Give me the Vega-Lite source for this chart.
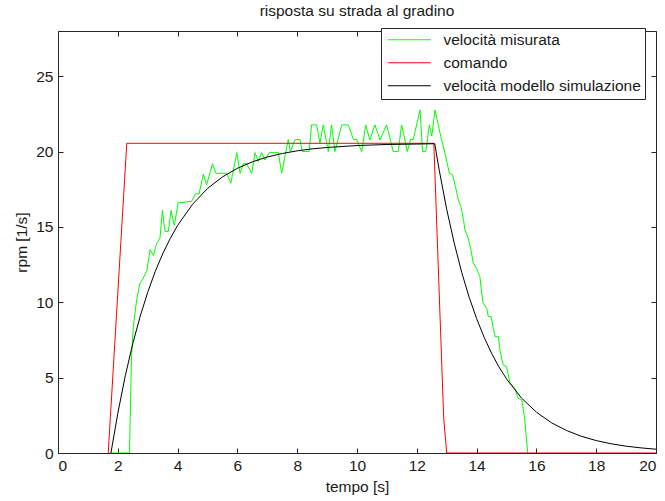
{
  "$schema": "https://vega.github.io/schema/vega-lite/v6.json",
  "width": 598,
  "height": 422,
  "autosize": {"type": "none"},
  "padding": {"left": 58, "top": 31, "right": 9, "bottom": 48},
  "background": "white",
  "config": {
    "font": "Liberation Sans",
    "view": {"stroke": null},
    "axis": {
      "grid": false,
      "domainColor": "#262626",
      "tickColor": "#262626",
      "labelColor": "#1a1a1a",
      "titleColor": "#1a1a1a",
      "labelFont": "Liberation Sans",
      "titleFont": "Liberation Sans",
      "labelFontSize": 15.5,
      "titleFontSize": 15.5,
      "titleFontWeight": "normal",
      "tickSize": -5,
      "domainWidth": 1,
      "tickWidth": 1
    },
    "title": {"font": "Liberation Sans", "fontSize": 15.5, "fontWeight": "normal", "color": "#1a1a1a", "offset": 8},
    "legend": {
      "labelFont": "Liberation Sans",
      "labelFontSize": 15.5,
      "labelColor": "#1a1a1a",
      "labelLimit": 400
    }
  },
  "title": {"text": "risposta su strada al gradino", "anchor": "middle"},
  "data": {"values": [
    {"t": 1.75, "v": 0, "serie": "velocità misurata"},
    {"t": 2.39, "v": 0, "serie": "velocità misurata"},
    {"t": 2.46, "v": 6.4, "serie": "velocità misurata"},
    {"t": 2.52, "v": 8.4, "serie": "velocità misurata"},
    {"t": 2.63, "v": 10.15, "serie": "velocità misurata"},
    {"t": 2.74, "v": 11.26, "serie": "velocità misurata"},
    {"t": 2.85, "v": 11.6, "serie": "velocità misurata"},
    {"t": 2.97, "v": 12.1, "serie": "velocità misurata"},
    {"t": 3.08, "v": 13.5, "serie": "velocità misurata"},
    {"t": 3.19, "v": 13.1, "serie": "velocità misurata"},
    {"t": 3.3, "v": 13.9, "serie": "velocità misurata"},
    {"t": 3.41, "v": 14.25, "serie": "velocità misurata"},
    {"t": 3.49, "v": 16.1, "serie": "velocità misurata"},
    {"t": 3.58, "v": 14.7, "serie": "velocità misurata"},
    {"t": 3.69, "v": 14.7, "serie": "velocità misurata"},
    {"t": 3.78, "v": 16.1, "serie": "velocità misurata"},
    {"t": 3.89, "v": 15.1, "serie": "velocità misurata"},
    {"t": 4.02, "v": 16.6, "serie": "velocità misurata"},
    {"t": 4.47, "v": 16.7, "serie": "velocità misurata"},
    {"t": 4.6, "v": 17.2, "serie": "velocità misurata"},
    {"t": 4.72, "v": 17.2, "serie": "velocità misurata"},
    {"t": 4.86, "v": 18.5, "serie": "velocità misurata"},
    {"t": 4.97, "v": 17.8, "serie": "velocità misurata"},
    {"t": 5.17, "v": 19.2, "serie": "velocità misurata"},
    {"t": 5.28, "v": 18.56, "serie": "velocità misurata"},
    {"t": 5.64, "v": 18.56, "serie": "velocità misurata"},
    {"t": 5.78, "v": 17.9, "serie": "velocità misurata"},
    {"t": 5.98, "v": 19.93, "serie": "velocità misurata"},
    {"t": 6.09, "v": 18.56, "serie": "velocità misurata"},
    {"t": 6.2, "v": 19.2, "serie": "velocità misurata"},
    {"t": 6.31, "v": 19.2, "serie": "velocità misurata"},
    {"t": 6.48, "v": 18.56, "serie": "velocità misurata"},
    {"t": 6.59, "v": 19.93, "serie": "velocità misurata"},
    {"t": 6.7, "v": 19.33, "serie": "velocità misurata"},
    {"t": 6.81, "v": 19.93, "serie": "velocità misurata"},
    {"t": 6.92, "v": 19.44, "serie": "velocità misurata"},
    {"t": 7.07, "v": 19.93, "serie": "velocità misurata"},
    {"t": 7.37, "v": 19.93, "serie": "velocità misurata"},
    {"t": 7.48, "v": 18.56, "serie": "velocità misurata"},
    {"t": 7.7, "v": 20.8, "serie": "velocità misurata"},
    {"t": 7.77, "v": 20.0, "serie": "velocità misurata"},
    {"t": 7.93, "v": 20.8, "serie": "velocità misurata"},
    {"t": 8.09, "v": 20.8, "serie": "velocità misurata"},
    {"t": 8.17, "v": 20.0, "serie": "velocità misurata"},
    {"t": 8.4, "v": 20.0, "serie": "velocità misurata"},
    {"t": 8.48, "v": 21.77, "serie": "velocità misurata"},
    {"t": 8.65, "v": 21.77, "serie": "velocità misurata"},
    {"t": 8.76, "v": 20.55, "serie": "velocità misurata"},
    {"t": 8.87, "v": 21.77, "serie": "velocità misurata"},
    {"t": 9.04, "v": 20.0, "serie": "velocità misurata"},
    {"t": 9.15, "v": 21.77, "serie": "velocità misurata"},
    {"t": 9.26, "v": 20.0, "serie": "velocità misurata"},
    {"t": 9.49, "v": 21.77, "serie": "velocità misurata"},
    {"t": 9.71, "v": 21.77, "serie": "velocità misurata"},
    {"t": 9.88, "v": 20.8, "serie": "velocità misurata"},
    {"t": 9.99, "v": 20.8, "serie": "velocità misurata"},
    {"t": 10.16, "v": 20.0, "serie": "velocità misurata"},
    {"t": 10.29, "v": 21.77, "serie": "velocità misurata"},
    {"t": 10.43, "v": 20.77, "serie": "velocità misurata"},
    {"t": 10.6, "v": 21.77, "serie": "velocità misurata"},
    {"t": 10.77, "v": 20.77, "serie": "velocità misurata"},
    {"t": 10.99, "v": 21.77, "serie": "velocità misurata"},
    {"t": 11.21, "v": 20.0, "serie": "velocità misurata"},
    {"t": 11.38, "v": 20.0, "serie": "velocità misurata"},
    {"t": 11.49, "v": 21.77, "serie": "velocità misurata"},
    {"t": 11.57, "v": 21.1, "serie": "velocità misurata"},
    {"t": 11.68, "v": 20.0, "serie": "velocità misurata"},
    {"t": 11.79, "v": 20.8, "serie": "velocità misurata"},
    {"t": 11.88, "v": 20.8, "serie": "velocità misurata"},
    {"t": 12.11, "v": 22.76, "serie": "velocità misurata"},
    {"t": 12.19, "v": 20.0, "serie": "velocità misurata"},
    {"t": 12.3, "v": 20.0, "serie": "velocità misurata"},
    {"t": 12.42, "v": 21.77, "serie": "velocità misurata"},
    {"t": 12.5, "v": 21.03, "serie": "velocità misurata"},
    {"t": 12.61, "v": 22.76, "serie": "velocità misurata"},
    {"t": 12.78, "v": 21.2, "serie": "velocità misurata"},
    {"t": 12.94, "v": 19.9, "serie": "velocità misurata"},
    {"t": 13.09, "v": 18.56, "serie": "velocità misurata"},
    {"t": 13.2, "v": 18.45, "serie": "velocità misurata"},
    {"t": 13.3, "v": 17.6, "serie": "velocità misurata"},
    {"t": 13.39, "v": 16.8, "serie": "velocità misurata"},
    {"t": 13.48, "v": 16.3, "serie": "velocità misurata"},
    {"t": 13.56, "v": 15.5, "serie": "velocità misurata"},
    {"t": 13.61, "v": 14.8, "serie": "velocità misurata"},
    {"t": 13.72, "v": 14.25, "serie": "velocità misurata"},
    {"t": 13.81, "v": 13.47, "serie": "velocità misurata"},
    {"t": 13.89, "v": 12.6, "serie": "velocità misurata"},
    {"t": 14.0, "v": 12.25, "serie": "velocità misurata"},
    {"t": 14.11, "v": 11.7, "serie": "velocità misurata"},
    {"t": 14.17, "v": 10.6, "serie": "velocità misurata"},
    {"t": 14.22, "v": 9.93, "serie": "velocità misurata"},
    {"t": 14.34, "v": 9.6, "serie": "velocità misurata"},
    {"t": 14.39, "v": 9.05, "serie": "velocità misurata"},
    {"t": 14.48, "v": 9.05, "serie": "velocità misurata"},
    {"t": 14.56, "v": 8.27, "serie": "velocità misurata"},
    {"t": 14.62, "v": 7.72, "serie": "velocità misurata"},
    {"t": 14.73, "v": 7.72, "serie": "velocità misurata"},
    {"t": 14.78, "v": 6.83, "serie": "velocità misurata"},
    {"t": 14.89, "v": 5.84, "serie": "velocità misurata"},
    {"t": 15.0, "v": 5.73, "serie": "velocità misurata"},
    {"t": 15.12, "v": 4.62, "serie": "velocità misurata"},
    {"t": 15.28, "v": 4.29, "serie": "velocità misurata"},
    {"t": 15.39, "v": 3.63, "serie": "velocità misurata"},
    {"t": 15.51, "v": 3.52, "serie": "velocità misurata"},
    {"t": 15.6, "v": 2.41, "serie": "velocità misurata"},
    {"t": 15.71, "v": 0, "serie": "velocità misurata"},
    {"t": 1.68, "v": 0, "serie": "comando"},
    {"t": 2.3, "v": 20.55, "serie": "comando"},
    {"t": 12.57, "v": 20.55, "serie": "comando"},
    {"t": 12.9, "v": 2.3, "serie": "comando"},
    {"t": 13.0, "v": 0, "serie": "comando"},
    {"t": 20, "v": 0, "serie": "comando"},
    {"t": 1.77, "v": 0, "serie": "velocità modello simulazione"},
    {"t": 2.0, "v": 2.63, "serie": "velocità modello simulazione"},
    {"t": 2.25, "v": 5.12, "serie": "velocità modello simulazione"},
    {"t": 2.5, "v": 7.25, "serie": "velocità modello simulazione"},
    {"t": 2.75, "v": 9.08, "serie": "velocità modello simulazione"},
    {"t": 3.0, "v": 10.66, "serie": "velocità modello simulazione"},
    {"t": 3.25, "v": 12.04, "serie": "velocità modello simulazione"},
    {"t": 3.5, "v": 13.21, "serie": "velocità modello simulazione"},
    {"t": 3.75, "v": 14.22, "serie": "velocità modello simulazione"},
    {"t": 4.0, "v": 15.1, "serie": "velocità modello simulazione"},
    {"t": 4.5, "v": 16.5, "serie": "velocità modello simulazione"},
    {"t": 5.0, "v": 17.55, "serie": "velocità modello simulazione"},
    {"t": 5.5, "v": 18.32, "serie": "velocità modello simulazione"},
    {"t": 6.0, "v": 18.89, "serie": "velocità modello simulazione"},
    {"t": 6.5, "v": 19.32, "serie": "velocità modello simulazione"},
    {"t": 7.0, "v": 19.64, "serie": "velocità modello simulazione"},
    {"t": 7.5, "v": 19.87, "serie": "velocità modello simulazione"},
    {"t": 8.0, "v": 20.05, "serie": "velocità modello simulazione"},
    {"t": 8.5, "v": 20.18, "serie": "velocità modello simulazione"},
    {"t": 9.0, "v": 20.27, "serie": "velocità modello simulazione"},
    {"t": 10.0, "v": 20.4, "serie": "velocità modello simulazione"},
    {"t": 11.0, "v": 20.47, "serie": "velocità modello simulazione"},
    {"t": 12.0, "v": 20.5, "serie": "velocità modello simulazione"},
    {"t": 12.6, "v": 20.52, "serie": "velocità modello simulazione"},
    {"t": 12.75, "v": 18.77, "serie": "velocità modello simulazione"},
    {"t": 13.0, "v": 16.17, "serie": "velocità modello simulazione"},
    {"t": 13.25, "v": 13.94, "serie": "velocità modello simulazione"},
    {"t": 13.5, "v": 12.0, "serie": "velocità modello simulazione"},
    {"t": 13.75, "v": 10.34, "serie": "velocità modello simulazione"},
    {"t": 14.0, "v": 8.92, "serie": "velocità modello simulazione"},
    {"t": 14.25, "v": 7.69, "serie": "velocità modello simulazione"},
    {"t": 14.5, "v": 6.62, "serie": "velocità modello simulazione"},
    {"t": 14.75, "v": 5.7, "serie": "velocità modello simulazione"},
    {"t": 15.0, "v": 4.92, "serie": "velocità modello simulazione"},
    {"t": 15.5, "v": 3.65, "serie": "velocità modello simulazione"},
    {"t": 16.0, "v": 2.71, "serie": "velocità modello simulazione"},
    {"t": 16.5, "v": 2.01, "serie": "velocità modello simulazione"},
    {"t": 17.0, "v": 1.5, "serie": "velocità modello simulazione"},
    {"t": 17.5, "v": 1.11, "serie": "velocità modello simulazione"},
    {"t": 18.0, "v": 0.825, "serie": "velocità modello simulazione"},
    {"t": 18.5, "v": 0.612, "serie": "velocità modello simulazione"},
    {"t": 19.0, "v": 0.454, "serie": "velocità modello simulazione"},
    {"t": 19.5, "v": 0.338, "serie": "velocità modello simulazione"},
    {"t": 20.0, "v": 0.251, "serie": "velocità modello simulazione"}
  ]},
  "layer": [
    {
      "mark": {"type": "line", "strokeWidth": 1, "clip": true},
      "encoding": {
        "x": {"field": "t", "type": "quantitative",
              "scale": {"domain": [0, 20], "nice": false, "zero": false},
              "axis": {"orient": "bottom", "values": [0, 2, 4, 6, 8, 10, 12, 14, 16, 18, 20], "title": "tempo [s]", "labelPadding": 10, "titlePadding": 6}},
        "y": {"field": "v", "type": "quantitative",
              "scale": {"domain": [0, 28], "nice": false},
              "axis": {"orient": "left", "values": [0, 5, 10, 15, 20, 25], "title": "rpm [1/s]", "labelPadding": 10, "titlePadding": 6}},
        "color": {"field": "serie", "type": "nominal",
                  "scale": {"domain": ["velocità misurata", "comando", "velocità modello simulazione"], "range": ["#00ff00", "#ff0000", "#000000"]},
                  "legend": {"title": null, "orient": "none", "legendX": 323, "legendY": -3,
                             "symbolType": "M-1,0H7.6", "symbolSize": 100, "symbolStrokeWidth": 1,
                             "labelOffset": 43, "rowPadding": 6, "padding": 4,
                             "strokeColor": "#262626", "fillColor": "white"}},
        "order": {"field": "t", "type": "quantitative"}
      }
    },
    {
      "mark": {"type": "line", "strokeOpacity": 0},
      "encoding": {
        "x": {"field": "t", "type": "quantitative",
              "axis": {"orient": "top", "values": [0, 2, 4, 6, 8, 10, 12, 14, 16, 18, 20], "labels": false, "title": null}},
        "y": {"field": "v", "type": "quantitative",
              "axis": {"orient": "right", "values": [0, 5, 10, 15, 20, 25], "labels": false, "title": null}}
      }
    }
  ],
  "resolve": {"axis": {"x": "independent", "y": "independent"}}
}
